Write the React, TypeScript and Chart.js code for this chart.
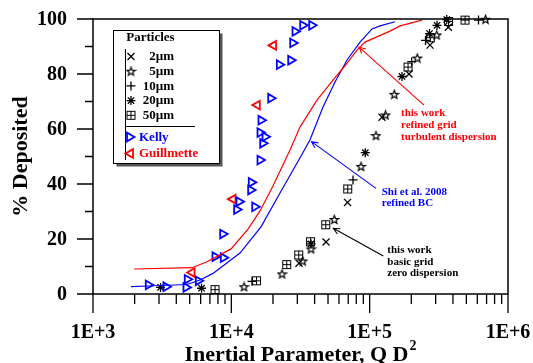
import React, { useEffect, useRef } from 'react';
import { Chart, registerables } from 'chart.js';

Chart.register(...registerables);

// ---------------- data ----------------
const xMajorTicks = [1e3, 1e4, 1e5, 1e6];
const xTickLabels = ['1E+3', '1E+4', '1E+5', '1E+6'];
const xMinorMultipliers = [2, 3, 4, 5, 6, 7, 8, 9];
const yMajorTicks = [0, 20, 40, 60, 80, 100];
const yMinorTicks = [10, 30, 50, 70, 90];

const xTitle = 'Inertial Parameter, Q D';
const xTitleSup = '2';
const yTitle = '% Deposited';

const legendTitle = 'Particles';
const particleLabels = ['2µm', '5µm', '10µm', '20µm', '50µm'];
const kellyLabel = 'Kelly';
const guillmetteLabel = 'Guillmette';

// Kelly experiments
const kellyX = [2510, 3370, 4700, 4800, 5770, 7620, 8750, 8660, 10930, 11360, 14760, 13940, 13800, 16120, 16860, 17520, 16120, 16390, 19260, 22230, 26870, 27780, 28860, 32800, 38100];
const kellyY = [3.3, 2.65, 2.4, 5.35, 4.8, 13.6, 13.2, 21.8, 30.7, 33.6, 31.7, 40.6, 37.8, 48.7, 54.8, 57.2, 58.7, 63.2, 71.2, 83.4, 85, 91.3, 95.5, 97.7, 97.7];

// Guillmette experiments
const guilX = [5200, 10280, 15410, 20180];
const guilY = [7.8, 34.5, 68.7, 90.4];

// Shi et al. 2008 refined BC (blue curve)
const shiX = [1883, 2500, 4780, 5940, 7370, 11550, 16390, 22480, 31900, 37000, 46000, 56200, 68600, 85200, 104000, 118800, 152500];
const shiY = [2.65, 2.9, 3.45, 5.1, 7.5, 14.9, 24.4, 36.7, 50.2, 56, 68, 77.1, 85.1, 91.6, 96.4, 97.5, 99];

// this work refined grid turbulent dispersion (red curve)
const turbX = [1980, 5200, 6670, 9950, 13200, 16120, 20000, 26560, 31360, 41600, 54300, 66300, 81000, 92500, 140300, 165800, 239000];
const turbY = [9.1, 9.56, 11.7, 16.4, 23.6, 30.2, 39.3, 52.4, 60.7, 70.5, 77.8, 83, 88.7, 91.6, 95.6, 97.5, 99.6];

// this work basic grid zero dispersion, per particle size
const p2X = [30850, 48350, 69200, 122800, 192500, 273100, 370300];
const p2Y = [11.2, 18.9, 33.3, 64.3, 80, 90.5, 97];
const p5X = [12350, 23250, 32800, 37670, 55500, 86600, 111100, 130200, 150700, 221000, 305200, 687700];
const p5Y = [2.65, 7.3, 12, 16.4, 27.1, 46.4, 57.6, 65.1, 72.6, 85.8, 94.2, 99.9];
const p10X = [14110, 75800, 201300, 253300, 612100];
const p10Y = [4.6, 41.5, 84.5, 92.2, 99.6];
const p20X = [3080, 6090, 37670, 93000, 171300, 270800, 306800, 360600];
const p20Y = [2.4, 2.1, 18.2, 51.4, 79.1, 94.7, 97.7, 99.8];
const p50X = [7620, 15210, 25140, 30690, 37350, 48100, 69400, 189300, 274500, 371500, 489000];
const p50Y = [1.6, 4.8, 10.7, 14.2, 19, 25.2, 38.2, 82.5, 93.2, 99.1, 99.6];

// annotations
const redNoteLines = ['this work', 'refined grid', 'turbulent dispersion'];
const blueNoteLines = ['Shi et al. 2008', 'refined BC'];
const blackNoteLines = ['this work', 'basic grid', 'zero dispersion'];

const BLUE = '#0000ff';
const RED = '#ff0000';
const FONT = '"Liberation Serif", "Times New Roman", serif';

const zip = (xs: number[], ys: number[]) => xs.map((x, i) => ({ x, y: ys[i] }));

function makeStar(): HTMLCanvasElement {
  const c = document.createElement('canvas');
  c.width = 11; c.height = 11;
  const g = c.getContext('2d')!;
  g.strokeStyle = '#000'; g.lineWidth = 1.2;
  g.beginPath();
  for (let i = 0; i < 10; i++) {
    const r = i % 2 === 0 ? 4.4 : 1.9;
    const a = -Math.PI / 2 + (i * Math.PI) / 5;
    const px = 5.5 + r * Math.cos(a), py = 5.9 + r * Math.sin(a);
    if (i === 0) g.moveTo(px, py); else g.lineTo(px, py);
  }
  g.closePath(); g.stroke();
  return c;
}

function makeBox(): HTMLCanvasElement {
  const c = document.createElement('canvas');
  c.width = 11; c.height = 11;
  const g = c.getContext('2d')!;
  g.strokeStyle = '#000'; g.lineWidth = 1;
  g.strokeRect(1.5, 1.5, 8, 8);
  g.beginPath();
  g.moveTo(5.5, 1.5); g.lineTo(5.5, 9.5);
  g.moveTo(1.5, 5.5); g.lineTo(9.5, 5.5);
  g.stroke();
  return c;
}

function drawMarker(ctx: CanvasRenderingContext2D, kind: string, x: number, y: number, color: string, imgs: any) {
  ctx.save();
  ctx.strokeStyle = color; ctx.lineWidth = 1.3;
  ctx.beginPath();
  if (kind === 'x') {
    ctx.moveTo(x - 3.5, y - 3.5); ctx.lineTo(x + 3.5, y + 3.5);
    ctx.moveTo(x - 3.5, y + 3.5); ctx.lineTo(x + 3.5, y - 3.5);
    ctx.stroke();
  } else if (kind === 'plus') {
    ctx.moveTo(x - 4.5, y); ctx.lineTo(x + 4.5, y);
    ctx.moveTo(x, y - 4.5); ctx.lineTo(x, y + 4.5);
    ctx.stroke();
  } else if (kind === 'aster') {
    ctx.moveTo(x - 4.5, y); ctx.lineTo(x + 4.5, y);
    ctx.moveTo(x, y - 4.5); ctx.lineTo(x, y + 4.5);
    ctx.moveTo(x - 3.2, y - 3.2); ctx.lineTo(x + 3.2, y + 3.2);
    ctx.moveTo(x - 3.2, y + 3.2); ctx.lineTo(x + 3.2, y - 3.2);
    ctx.stroke();
  } else if (kind === 'star5') {
    ctx.drawImage(imgs.star, x - 5.5, y - 5.5);
  } else if (kind === 'box') {
    ctx.drawImage(imgs.box, x - 5.5, y - 5.5);
  } else if (kind === 'triR' || kind === 'triL') {
    const d = kind === 'triR' ? 1 : -1;
    ctx.lineWidth = 1.8;
    ctx.moveTo(x + d * 5, y);
    ctx.lineTo(x - d * 2.5, y - 4.33);
    ctx.lineTo(x - d * 2.5, y + 4.33);
    ctx.closePath();
    ctx.stroke();
  }
  ctx.restore();
}

function arrow(ctx: CanvasRenderingContext2D, x1: number, y1: number, x2: number, y2: number, color: string) {
  ctx.save();
  ctx.strokeStyle = color; ctx.lineWidth = 1.1;
  ctx.beginPath();
  ctx.moveTo(x1, y1); ctx.lineTo(x2, y2);
  const ang = Math.atan2(y1 - y2, x1 - x2);
  const L = 7, w = 0.45;
  ctx.moveTo(x2 + L * Math.cos(ang + w), y2 + L * Math.sin(ang + w));
  ctx.lineTo(x2, y2);
  ctx.lineTo(x2 + L * Math.cos(ang - w), y2 + L * Math.sin(ang - w));
  ctx.stroke();
  ctx.restore();
}

// annotation anchors in data coordinates
const notes = [
  { lines: redNoteLines, color: RED, text: { x: 168500, y: 65.7 }, tail: { x: 247000, y: 68.7 }, head: { x: 83700, y: 89.8 } },
  { lines: blueNoteLines, color: BLUE, text: { x: 122200, y: 37.2 }, tail: { x: 111100, y: 38.4 }, head: { x: 37980, y: 55.4 } },
  { lines: blackNoteLines, color: '#000', text: { x: 134100, y: 16 }, tail: { x: 125500, y: 13.8 }, head: { x: 54600, y: 23.9 } },
];

function makeDecorPlugin(imgs: any) {
  return {
    id: 'decor',
    afterDraw(chart: any) {
      const ctx: CanvasRenderingContext2D = chart.ctx;
      const a = chart.chartArea;
      const xs = chart.scales.x, ys = chart.scales.y;
      ctx.save();
      // frame
      ctx.strokeStyle = '#000'; ctx.lineWidth = 1.5;
      ctx.strokeRect(a.left, a.top, a.right - a.left, a.bottom - a.top);
      // ticks
      ctx.lineWidth = 1.3;
      ctx.beginPath();
      xMajorTicks.forEach((v, i) => {
        const px = xs.getPixelForValue(v);
        ctx.moveTo(px, a.bottom); ctx.lineTo(px, a.bottom + 19);
        if (i < xMajorTicks.length - 1) {
          xMinorMultipliers.forEach((m) => {
            const p = xs.getPixelForValue(v * m);
            ctx.moveTo(p, a.bottom); ctx.lineTo(p, a.bottom + 10);
          });
        }
      });
      yMajorTicks.forEach((v) => {
        const py = ys.getPixelForValue(v);
        ctx.moveTo(a.left, py); ctx.lineTo(a.left - 16, py);
      });
      yMinorTicks.forEach((v) => {
        const py = ys.getPixelForValue(v);
        ctx.moveTo(a.left, py); ctx.lineTo(a.left - 8, py);
      });
      ctx.stroke();

      // tick labels
      ctx.fillStyle = '#000';
      ctx.font = `bold 20px ${FONT}`;
      ctx.textAlign = 'center'; ctx.textBaseline = 'middle';
      xMajorTicks.forEach((v, i) => ctx.fillText(xTickLabels[i], xs.getPixelForValue(v), a.bottom + 39));
      ctx.textAlign = 'right';
      yMajorTicks.forEach((v) => ctx.fillText(String(v), a.left - 26, ys.getPixelForValue(v) + 1));

      // x title
      ctx.font = `bold 22px ${FONT}`;
      ctx.textBaseline = 'alphabetic'; ctx.textAlign = 'left';
      const w1 = ctx.measureText(xTitle).width;
      ctx.font = `bold 14px ${FONT}`;
      const w2 = ctx.measureText(xTitleSup).width;
      const cx = (a.left + a.right) / 2;
      const sx = cx - (w1 + 1 + w2) / 2;
      ctx.font = `bold 22px ${FONT}`;
      ctx.fillText(xTitle, sx, a.bottom + 67);
      ctx.font = `bold 14px ${FONT}`;
      ctx.fillText(xTitleSup, sx + w1 + 1, a.bottom + 56);

      // y title
      ctx.save();
      ctx.translate(21, (a.top + a.bottom) / 2);
      ctx.rotate(-Math.PI / 2);
      ctx.font = `bold 22px ${FONT}`;
      ctx.textAlign = 'center'; ctx.textBaseline = 'middle';
      ctx.fillText(yTitle, 0, 0);
      ctx.restore();

      // annotations
      ctx.font = `bold 11px ${FONT}`;
      ctx.textAlign = 'left'; ctx.textBaseline = 'middle';
      notes.forEach((n) => {
        const tx = xs.getPixelForValue(n.text.x), ty = ys.getPixelForValue(n.text.y);
        ctx.fillStyle = n.color;
        n.lines.forEach((l, i) => ctx.fillText(l, tx, ty + i * 11.8));
        arrow(ctx, xs.getPixelForValue(n.tail.x), ys.getPixelForValue(n.tail.y), xs.getPixelForValue(n.head.x), ys.getPixelForValue(n.head.y), n.color);
      });

      // legend box
      const bx = 113.5, by = 30.5, bw = 106, bh = 133;
      ctx.fillStyle = '#555';
      ctx.fillRect(bx + 3, by + 3, bw, bh);
      ctx.fillStyle = '#fff';
      ctx.fillRect(bx, by, bw, bh);
      ctx.strokeStyle = '#000'; ctx.lineWidth = 1;
      ctx.strokeRect(bx, by, bw, bh);
      ctx.beginPath();
      ctx.moveTo(125.5, 49); ctx.lineTo(125.5, 160);
      ctx.moveTo(125.5, 126.5); ctx.lineTo(195, 126.5);
      ctx.stroke();
      ctx.fillStyle = '#000';
      ctx.font = `bold 13px ${FONT}`;
      ctx.textAlign = 'center'; ctx.textBaseline = 'middle';
      ctx.fillText(legendTitle, 150.5, 38);
      const kinds = ['x', 'star5', 'plus', 'aster', 'box'];
      ctx.textAlign = 'right';
      particleLabels.forEach((lab, i) => {
        const yy = 56.5 + i * 14.7;
        drawMarker(ctx, kinds[i], 131, yy, '#000', imgs);
        ctx.fillStyle = '#000';
        ctx.fillText(lab, 174, yy + 0.5);
      });
      ctx.textAlign = 'left';
      drawMarker(ctx, 'triR', 129.5, 137, BLUE, imgs);
      ctx.fillStyle = BLUE;
      ctx.fillText(kellyLabel, 139, 137.5);
      drawMarker(ctx, 'triL', 130.5, 153.5, RED, imgs);
      ctx.fillStyle = RED;
      ctx.fillText(guillmetteLabel, 139, 154);
      ctx.restore();
    },
  };
}

export default function App() {
  const ref = useRef<HTMLCanvasElement>(null);
  useEffect(() => {
    const canvas = ref.current!;
    const imgs = { star: makeStar(), box: makeBox() };
    const blackPt = (label: string, xs: number[], ys: number[], style: any, r: number) => ({
      label, data: zip(xs, ys), showLine: false, pointStyle: style, pointRadius: r,
      borderColor: '#000', backgroundColor: 'rgba(0,0,0,0)', borderWidth: 1.3, clip: false as any,
    });
    const chart = new Chart(canvas, {
      type: 'scatter',
      data: {
        datasets: [
          { label: 'turb', data: zip(turbX, turbY), showLine: true, pointRadius: 0, borderColor: RED, borderWidth: 1.2, tension: 0, clip: false as any },
          { label: 'shi', data: zip(shiX, shiY), showLine: true, pointRadius: 0, borderColor: BLUE, borderWidth: 1.2, tension: 0, clip: false as any },
          { label: kellyLabel, data: zip(kellyX, kellyY), showLine: false, pointStyle: 'triangle', rotation: 90, pointRadius: 5, borderColor: BLUE, backgroundColor: 'rgba(0,0,0,0)', borderWidth: 1.8, clip: false as any },
          { label: guillmetteLabel, data: zip(guilX, guilY), showLine: false, pointStyle: 'triangle', rotation: -90, pointRadius: 5, borderColor: RED, backgroundColor: 'rgba(0,0,0,0)', borderWidth: 1.8, clip: false as any },
          blackPt(particleLabels[0], p2X, p2Y, 'crossRot', 5),
          blackPt(particleLabels[1], p5X, p5Y, imgs.star, 5),
          blackPt(particleLabels[2], p10X, p10Y, 'cross', 4.5),
          blackPt(particleLabels[3], p20X, p20Y, 'star', 4.5),
          blackPt(particleLabels[4], p50X, p50Y, imgs.box, 5),
        ] as any,
      },
      options: {
        responsive: false,
        animation: false,
        devicePixelRatio: 1,
        layout: { padding: { left: 0, top: 19, right: 25, bottom: 0 } },
        plugins: { legend: { display: false }, tooltip: { enabled: false } },
        scales: {
          x: {
            type: 'logarithmic', min: 1000, max: 1000000,
            ticks: { display: false }, grid: { display: false }, border: { display: false },
            afterFit: (s: any) => { s.height = 69; },
          },
          y: {
            type: 'linear', min: 0, max: 100,
            ticks: { display: false }, grid: { display: false }, border: { display: false },
            afterFit: (s: any) => { s.width = 93; },
          },
        },
      } as any,
      plugins: [makeDecorPlugin(imgs)],
    });
    return () => chart.destroy();
  }, []);
  return (
    <canvas
      ref={ref}
      width={533}
      height={363}
      style={{ position: 'fixed', left: 0, top: 0, width: 533, height: 363, background: '#fff' }}
    />
  );
}
